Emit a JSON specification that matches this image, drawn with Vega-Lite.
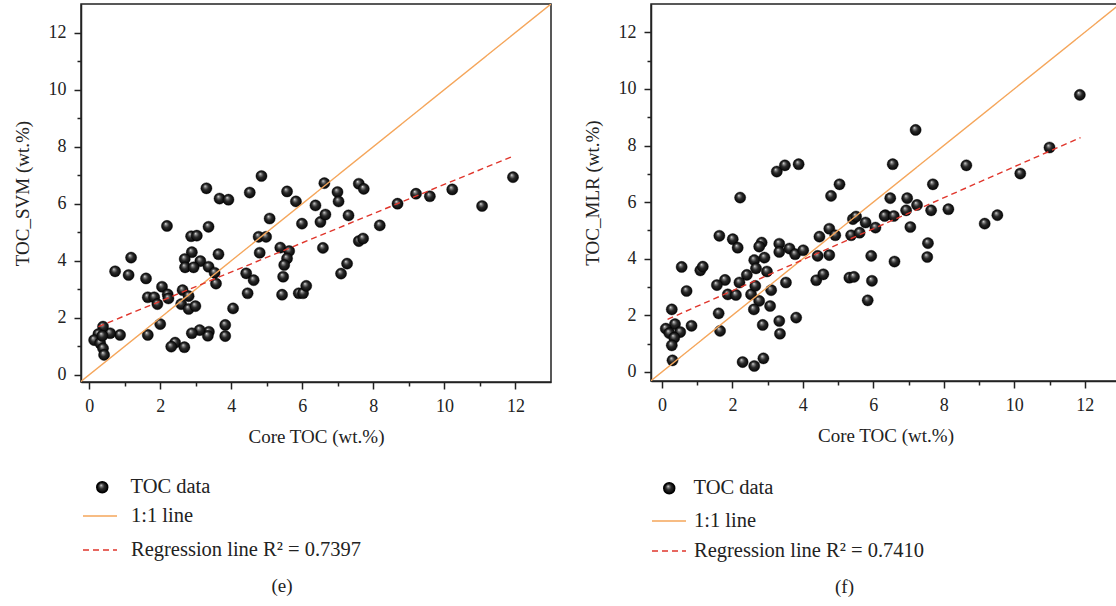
{
  "$schema": "https://vega.github.io/schema/vega-lite/v6.json",
  "padding": {"left": 12, "top": 3, "right": 0, "bottom": 0},
  "spacing": 30,
  "datasets": {
    "svm": [
      {"core":4.85,"pred":6.97},{"core":3.30,"pred":6.54},{"core":3.67,"pred":6.18},{"core":3.92,"pred":6.14},{"core":4.52,"pred":6.39},{"core":5.57,"pred":6.43},{"core":5.82,"pred":6.08},{"core":6.62,"pred":6.72},{"core":6.37,"pred":5.94},{"core":5.99,"pred":5.30},{"core":6.51,"pred":5.36},{"core":6.65,"pred":5.62},{"core":5.08,"pred":5.48},{"core":2.19,"pred":5.22},{"core":3.36,"pred":5.19},{"core":2.87,"pred":4.86},{"core":3.03,"pred":4.88},{"core":4.77,"pred":4.84},{"core":4.98,"pred":4.84},{"core":2.89,"pred":4.30},{"core":2.69,"pred":4.06},{"core":3.13,"pred":3.99},{"core":3.64,"pred":4.23},{"core":2.70,"pred":3.77},{"core":2.94,"pred":3.77},{"core":3.36,"pred":3.79},{"core":3.53,"pred":3.58},{"core":3.57,"pred":3.20},{"core":1.18,"pred":4.11},{"core":0.73,"pred":3.63},{"core":1.11,"pred":3.50},{"core":1.60,"pred":3.38},{"core":2.05,"pred":3.09},{"core":2.21,"pred":2.82},{"core":1.65,"pred":2.72},{"core":1.83,"pred":2.72},{"core":1.92,"pred":2.48},{"core":2.23,"pred":2.68},{"core":2.63,"pred":2.97},{"core":2.80,"pred":2.76},{"core":2.59,"pred":2.48},{"core":2.80,"pred":2.31},{"core":2.99,"pred":2.41},{"core":4.42,"pred":3.56},{"core":4.63,"pred":3.32},{"core":5.38,"pred":4.46},{"core":5.63,"pred":4.34},{"core":5.57,"pred":4.08},{"core":5.49,"pred":3.85},{"core":5.46,"pred":3.44},{"core":4.80,"pred":4.28},{"core":4.46,"pred":2.86},{"core":5.43,"pred":2.81},{"core":5.90,"pred":2.86},{"core":6.02,"pred":2.86},{"core":6.11,"pred":3.12},{"core":4.05,"pred":2.33},{"core":3.83,"pred":1.75},{"core":3.83,"pred":1.36},{"core":3.37,"pred":1.51},{"core":3.34,"pred":1.37},{"core":3.11,"pred":1.57},{"core":2.89,"pred":1.46},{"core":2.00,"pred":1.78},{"core":1.65,"pred":1.40},{"core":2.42,"pred":1.13},{"core":2.31,"pred":0.99},{"core":2.68,"pred":0.97},{"core":0.87,"pred":1.40},{"core":0.59,"pred":1.46},{"core":0.39,"pred":1.69},{"core":0.26,"pred":1.43},{"core":0.14,"pred":1.22},{"core":0.31,"pred":1.11},{"core":0.39,"pred":0.93},{"core":0.42,"pred":0.70},{"core":0.37,"pred":1.37},
      {"core":7.59,"pred":6.70},{"core":7.73,"pred":6.52},{"core":6.99,"pred":6.41},{"core":7.02,"pred":6.08},{"core":7.30,"pred":5.59},{"core":8.18,"pred":5.24},{"core":8.68,"pred":6.00},{"core":9.20,"pred":6.35},{"core":9.59,"pred":6.26},{"core":10.22,"pred":6.50},{"core":11.06,"pred":5.92},{"core":11.93,"pred":6.93},{"core":6.58,"pred":4.45},{"core":7.59,"pred":4.69},{"core":7.71,"pred":4.78},{"core":7.26,"pred":3.90},{"core":7.09,"pred":3.55}
    ],
    "svmLines": [
      {"series":"1:1 line","core":-0.3,"pred":-0.3},{"series":"1:1 line","core":13,"pred":13},
      {"series":"Regression line R² = 0.7397","core":0.26,"pred":1.69},{"series":"Regression line R² = 0.7397","core":11.92,"pred":7.66}
    ],
    "mlr": [
      {"core":2.22,"pred":6.16},{"core":3.26,"pred":7.08},{"core":3.49,"pred":7.30},{"core":3.88,"pred":7.34},{"core":4.80,"pred":6.22},{"core":5.04,"pred":6.63},{"core":1.63,"pred":4.81},{"core":2.01,"pred":4.69},{"core":2.15,"pred":4.39},{"core":2.83,"pred":4.57},{"core":2.76,"pred":4.43},{"core":3.33,"pred":4.53},{"core":3.33,"pred":4.24},{"core":3.62,"pred":4.36},{"core":3.78,"pred":4.16},{"core":4.01,"pred":4.30},{"core":4.47,"pred":4.78},{"core":4.75,"pred":5.06},{"core":4.92,"pred":4.83},{"core":4.42,"pred":4.10},{"core":4.75,"pred":4.13},{"core":5.42,"pred":5.40},{"core":5.51,"pred":5.49},{"core":5.78,"pred":5.28},{"core":5.37,"pred":4.83},{"core":5.61,"pred":4.92},{"core":6.06,"pred":5.10},{"core":5.94,"pred":4.10},{"core":6.34,"pred":5.54},{"core":2.62,"pred":3.95},{"core":2.91,"pred":4.04},{"core":2.67,"pred":3.66},{"core":2.98,"pred":3.55},{"core":2.41,"pred":3.43},{"core":2.20,"pred":3.16},{"core":1.79,"pred":3.25},{"core":1.56,"pred":3.07},{"core":1.87,"pred":2.74},{"core":2.10,"pred":2.72},{"core":2.53,"pred":2.74},{"core":2.65,"pred":3.04},{"core":2.76,"pred":2.51},{"core":3.10,"pred":2.89},{"core":3.52,"pred":3.16},{"core":2.61,"pred":2.21},{"core":3.07,"pred":2.33},{"core":2.86,"pred":1.66},{"core":3.33,"pred":1.80},{"core":3.35,"pred":1.35},{"core":3.81,"pred":1.92},{"core":2.29,"pred":0.35},{"core":2.62,"pred":0.21},{"core":2.88,"pred":0.48},{"core":1.61,"pred":2.07},{"core":1.65,"pred":1.45},{"core":0.56,"pred":3.71},{"core":1.09,"pred":3.59},{"core":1.16,"pred":3.72},{"core":0.70,"pred":2.86},{"core":0.84,"pred":1.63},{"core":0.28,"pred":2.21},{"core":0.37,"pred":1.69},{"core":0.11,"pred":1.53},{"core":0.21,"pred":1.37},{"core":0.52,"pred":1.41},{"core":0.35,"pred":1.21},{"core":0.28,"pred":0.94},{"core":0.30,"pred":0.41},{"core":5.32,"pred":3.33},{"core":5.45,"pred":3.36},{"core":5.96,"pred":3.22},{"core":5.84,"pred":2.53},{"core":4.38,"pred":3.24},{"core":4.58,"pred":3.45},
      {"core":11.86,"pred":9.79},{"core":7.20,"pred":8.55},{"core":6.55,"pred":7.34},{"core":8.64,"pred":7.30},{"core":7.69,"pred":6.63},{"core":11.00,"pred":7.93},{"core":10.17,"pred":7.01},{"core":6.48,"pred":6.14},{"core":6.96,"pred":6.14},{"core":6.93,"pred":5.71},{"core":7.24,"pred":5.90},{"core":6.32,"pred":5.51},{"core":6.58,"pred":5.51},{"core":7.64,"pred":5.71},{"core":8.13,"pred":5.75},{"core":7.05,"pred":5.12},{"core":9.16,"pred":5.24},{"core":9.52,"pred":5.54},{"core":7.55,"pred":4.55},{"core":7.53,"pred":4.06},{"core":6.60,"pred":3.90}
    ],
    "mlrLines": [
      {"series":"1:1 line","core":-0.32,"pred":-0.32},{"series":"1:1 line","core":13,"pred":13},
      {"series":"Regression line R² = 0.7410","core":0.16,"pred":1.86},{"series":"Regression line R² = 0.7410","core":11.88,"pred":8.28}
    ]
  },
  "resolve": {"scale": {"color": "independent", "strokeDash": "independent", "shape": "independent"}, "legend": {"color": "independent", "strokeDash": "independent", "shape": "independent"}},
  "hconcat": [
    {
      "width": 470,
      "height": 378,
      "title": {"text": "(e)", "orient": "bottom", "anchor": "middle", "dx": -34, "offset": 16, "fontSize": 19, "fontWeight": "normal", "color": "#222"},
      "layer": [
        {
          "data": {"name": "svm"},
          "mark": {"type": "point", "filled": true, "size": 125, "opacity": 1, "stroke": "#000", "strokeWidth": 0.4,
            "fill": {"gradient": "radial", "x1": 0.38, "y1": 0.3, "r1": 0, "x2": 0.5, "y2": 0.5, "r2": 0.5,
              "stops": [{"offset": 0, "color": "#f4f4f4"}, {"offset": 0.18, "color": "#8a8a8a"}, {"offset": 0.5, "color": "#2a2a2a"}, {"offset": 1, "color": "#050505"}]}},
          "encoding": {
            "x": {"field": "core", "type": "quantitative", "scale": {"domain": [-0.23, 13], "nice": false, "zero": false},
              "axis": {"orient": "bottom", "values": [0, 2, 4, 6, 8, 10, 12], "title": "Core TOC (wt.%)"}},
            "y": {"field": "pred", "type": "quantitative", "scale": {"domain": [-0.25, 13], "nice": false, "zero": false},
              "axis": {"orient": "left", "values": [0, 2, 4, 6, 8, 10, 12], "title": "TOC_SVM (wt.%)"}},
            "shape": {"datum": "TOC data", "scale": {"domain": ["TOC data"], "range": ["circle"]},
              "legend": {"orient": "none", "legendX": 11, "legendY": 473, "title": null, "symbolSize": 120, "labelOffset": 18}}
          }
        },
        {
          "data": {"name": "svmLines"},
          "mark": {"type": "line", "clip": true, "strokeWidth": 1.4},
          "encoding": {
            "x": {"field": "core", "type": "quantitative",
              "axis": {"orient": "bottom", "values": [1, 3, 5, 7, 9, 11], "labels": false, "title": null, "tickSize": 4, "domain": false}},
            "y": {"field": "pred", "type": "quantitative",
              "axis": {"orient": "left", "values": [1, 3, 5, 7, 9, 11], "labels": false, "title": null, "tickSize": 4, "domain": false}},
            "color": {"field": "series", "type": "nominal",
              "scale": {"domain": ["1:1 line", "Regression line R² = 0.7397"], "range": ["#F5A65B", "#E0362C"]},
              "legend": {"orient": "none", "legendX": 1, "legendY": 494, "direction": "vertical", "title": null, "symbolType": "stroke", "symbolSize": 1156, "labelOffset": 13, "rowPadding": 5}},
            "strokeDash": {"field": "series", "type": "nominal",
              "scale": {"domain": ["1:1 line", "Regression line R² = 0.7397"], "range": [[1, 0], [6, 4]]},
              "legend": {"orient": "none", "legendX": 1, "legendY": 494, "direction": "vertical", "title": null, "symbolType": "stroke", "symbolSize": 1156, "labelOffset": 13, "rowPadding": 5}}
          }
        }
      ],
      "resolve": {"axis": {"x": "independent", "y": "independent"}}
    },
    {
      "width": 469,
      "height": 377,
      "title": {"text": "(f)", "orient": "bottom", "anchor": "middle", "dx": -41, "offset": 16, "fontSize": 19, "fontWeight": "normal", "color": "#222"},
      "layer": [
        {
          "data": {"name": "mlr"},
          "mark": {"type": "point", "filled": true, "size": 125, "opacity": 1, "stroke": "#000", "strokeWidth": 0.4,
            "fill": {"gradient": "radial", "x1": 0.38, "y1": 0.3, "r1": 0, "x2": 0.5, "y2": 0.5, "r2": 0.5,
              "stops": [{"offset": 0, "color": "#f4f4f4"}, {"offset": 0.18, "color": "#8a8a8a"}, {"offset": 0.5, "color": "#2a2a2a"}, {"offset": 1, "color": "#050505"}]}},
          "encoding": {
            "x": {"field": "core", "type": "quantitative", "scale": {"domain": [-0.31, 13], "nice": false, "zero": false},
              "axis": {"orient": "bottom", "values": [0, 2, 4, 6, 8, 10, 12], "title": "Core TOC (wt.%)"}},
            "y": {"field": "pred", "type": "quantitative", "scale": {"domain": [-0.32, 13], "nice": false, "zero": false},
              "axis": {"orient": "left", "values": [0, 2, 4, 6, 8, 10, 12], "title": "TOC_MLR (wt.%)"}},
            "shape": {"datum": "TOC data", "scale": {"domain": ["TOC data"], "range": ["circle"]},
              "legend": {"orient": "none", "legendX": 8, "legendY": 474, "title": null, "symbolSize": 120, "labelOffset": 14}}
          }
        },
        {
          "data": {"name": "mlrLines"},
          "mark": {"type": "line", "clip": true, "strokeWidth": 1.4},
          "encoding": {
            "x": {"field": "core", "type": "quantitative",
              "axis": {"orient": "bottom", "values": [1, 3, 5, 7, 9, 11], "labels": false, "title": null, "tickSize": 4, "domain": false}},
            "y": {"field": "pred", "type": "quantitative",
              "axis": {"orient": "left", "values": [1, 3, 5, 7, 9, 11], "labels": false, "title": null, "tickSize": 4, "domain": false}},
            "color": {"field": "series", "type": "nominal",
              "scale": {"domain": ["1:1 line", "Regression line R² = 0.7410"], "range": ["#F5A65B", "#E0362C"]},
              "legend": {"orient": "none", "legendX": 0, "legendY": 499, "direction": "vertical", "title": null, "symbolType": "stroke", "symbolSize": 1156, "labelOffset": 7, "rowPadding": 1}},
            "strokeDash": {"field": "series", "type": "nominal",
              "scale": {"domain": ["1:1 line", "Regression line R² = 0.7410"], "range": [[1, 0], [6, 4]]},
              "legend": {"orient": "none", "legendX": 0, "legendY": 499, "direction": "vertical", "title": null, "symbolType": "stroke", "symbolSize": 1156, "labelOffset": 7, "rowPadding": 1}}
          }
        }
      ],
      "resolve": {"axis": {"x": "independent", "y": "independent"}}
    }
  ],
  "config": {
    "font": "Liberation Serif",
    "view": {"stroke": "#222", "strokeWidth": 1.5},
    "axis": {
      "grid": false, "labelFont": "Liberation Serif", "titleFont": "Liberation Serif",
      "labelFontSize": 18, "titleFontSize": 19, "titleFontWeight": "normal",
      "labelColor": "#222", "titleColor": "#222", "domainColor": "#222", "tickColor": "#222",
      "domainWidth": 1.5, "tickWidth": 1.5, "tickSize": 7, "labelPadding": 8, "titlePadding": 14
    },
    "axisY": {"titlePadding": 16},
    "axisX": {"titlePadding": 12},
    "legend": {"labelFont": "Liberation Serif", "labelFontSize": 20.5, "labelColor": "#222", "padding": 0, "symbolStrokeWidth": 1.5, "labelLimit": 400},
    "title": {"font": "Liberation Serif"}
  }
}
